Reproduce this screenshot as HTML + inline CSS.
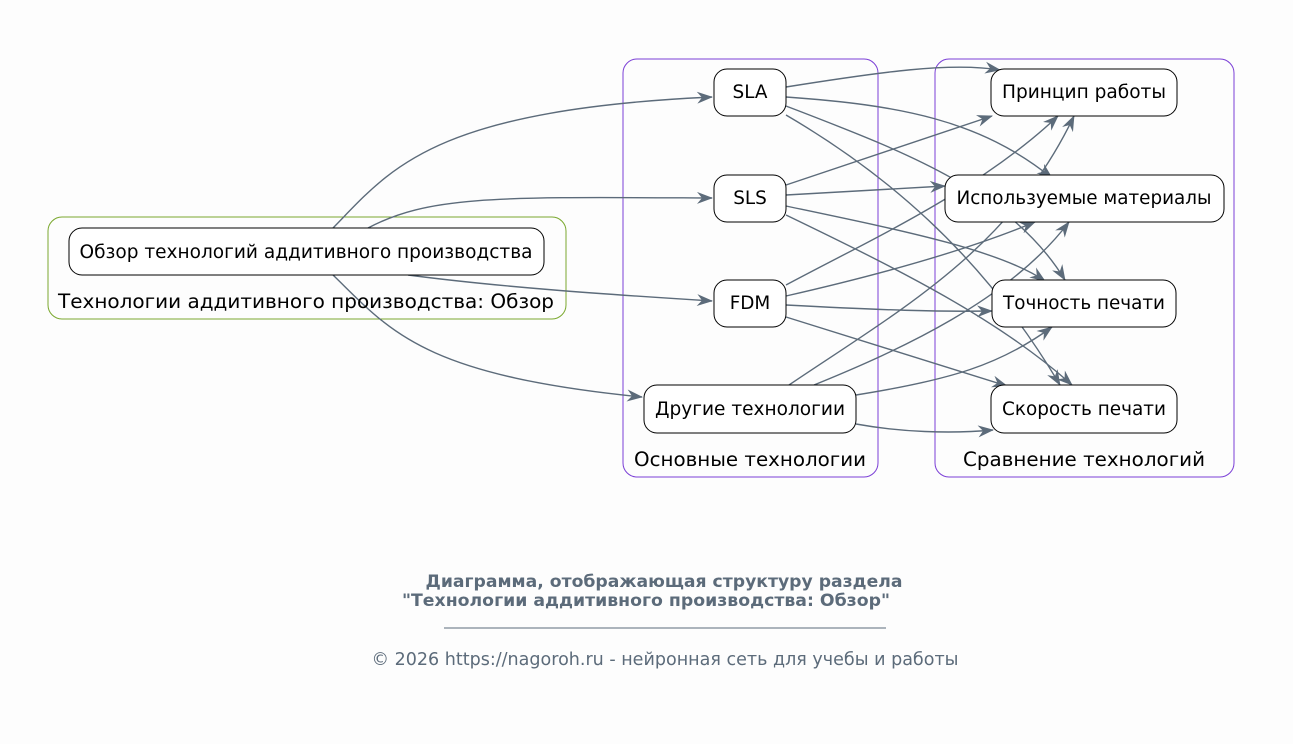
<!DOCTYPE html>
<html><head><meta charset="utf-8"><style>
body{margin:0;background:#fdfdfd;}
svg{display:block;font-family:"DejaVu Sans","Liberation Sans",sans-serif;}
</style></head><body>
<svg width="1293" height="744" viewBox="0 0 1293 744" xmlns="http://www.w3.org/2000/svg">
<defs>
<marker id="a" viewBox="0 0 16 12" refX="15" refY="6" markerWidth="16" markerHeight="12" markerUnits="userSpaceOnUse" orient="auto">
<path d="M0,0 L16,6 L0,12 L5,6 Z" fill="#5c6b7a"/>
</marker>
</defs>
<rect width="1293" height="744" fill="#fdfdfd"/>
<rect x="48" y="217" width="518" height="102" rx="14" fill="none" stroke="#7aa82e" stroke-width="1"/>
<rect x="623" y="59" width="255" height="418" rx="14" fill="none" stroke="#7b3fd6" stroke-width="1"/>
<rect x="935" y="59" width="299" height="418" rx="14" fill="none" stroke="#7b3fd6" stroke-width="1"/>
<g fill="none" stroke="#5c6b7a" stroke-width="1.4" marker-end="url(#a)">
<path d="M333,228 C390,170 430,110 712,97"/>
<path d="M368,228 C430,195 500,197 712,198"/>
<path d="M408,275 C500,287 600,294 712,301"/>
<path d="M333,275 C390,330 420,375 642,397"/>
<path d="M786,87 C880,72 950,62 1000,70"/>
<path d="M786,97 C900,105 980,120 1052,178"/>
<path d="M786,106 C900,150 1010,190 1065,280"/>
<path d="M786,115 C880,170 980,250 1060,385"/>
<path d="M786,185 L992,116"/>
<path d="M786,195 L945,186"/>
<path d="M786,206 C900,230 1000,250 1045,281"/>
<path d="M786,215 C900,270 1000,320 1072,385"/>
<path d="M786,285 C870,240 980,190 1058,116"/>
<path d="M786,296 C900,270 980,245 1035,222"/>
<path d="M786,305 C880,310 940,312 992,311"/>
<path d="M786,317 L1007,386"/>
<path d="M789,385 C900,310 1010,250 1074,116"/>
<path d="M814,385 C900,350 1010,300 1069,222"/>
<path d="M856,395 C950,380 1000,365 1052,327"/>
<path d="M856,424 C900,432 950,434 993,430"/>
</g>
<g fill="#fff" stroke="#000" stroke-width="1">
<rect x="69" y="228" width="475" height="47" rx="13"/>
<rect x="714" y="69" width="72" height="47" rx="13"/>
<rect x="714" y="175" width="72" height="47" rx="13"/>
<rect x="714" y="280" width="72" height="47" rx="13"/>
<rect x="644" y="385" width="212" height="48" rx="13"/>
<rect x="991" y="69" width="186" height="47" rx="13"/>
<rect x="945" y="175" width="279" height="47" rx="13"/>
<rect x="992" y="280" width="184" height="47" rx="13"/>
<rect x="991" y="385" width="186" height="48" rx="13"/>
</g>
<g font-size="18.4" fill="#000" text-anchor="middle">
<text x="306" y="258" font-size="18.4" textLength="453" lengthAdjust="spacingAndGlyphs">Обзор технологий аддитивного производства</text>
<text x="306" y="308" font-size="19.5" textLength="496" lengthAdjust="spacingAndGlyphs">Технологии аддитивного производства: Обзор</text>
<text x="750" y="98">SLA</text>
<text x="750" y="204">SLS</text>
<text x="750" y="309">FDM</text>
<text x="750" y="415" textLength="190" lengthAdjust="spacingAndGlyphs">Другие технологии</text>
<text x="1084" y="98" textLength="164" lengthAdjust="spacingAndGlyphs">Принцип работы</text>
<text x="1084" y="204" textLength="255" lengthAdjust="spacingAndGlyphs">Используемые материалы</text>
<text x="1084" y="309" textLength="162" lengthAdjust="spacingAndGlyphs">Точность печати</text>
<text x="1084" y="415" textLength="164" lengthAdjust="spacingAndGlyphs">Скорость печати</text>
<text x="750" y="466" font-size="19.5" textLength="232" lengthAdjust="spacingAndGlyphs">Основные технологии</text>
<text x="1084" y="466" font-size="19.5" textLength="242" lengthAdjust="spacingAndGlyphs">Сравнение технологий</text>
</g>
<g fill="#5c6b7a" text-anchor="middle">
<text x="664" y="587" font-size="17" font-weight="bold" textLength="477" lengthAdjust="spacingAndGlyphs">Диаграмма, отображающая структуру раздела</text>
<text x="646" y="606" font-size="17" font-weight="bold" textLength="488" lengthAdjust="spacingAndGlyphs">"Технологии аддитивного производства: Обзор"</text>
<line x1="444" y1="628" x2="886" y2="628" stroke="#5c6b7a" stroke-width="1"/>
<text x="665" y="665" font-size="17.5" textLength="587" lengthAdjust="spacingAndGlyphs">© 2026 https://nagoroh.ru - нейронная сеть для учебы и работы</text>
</g>
</svg>
</body></html>
